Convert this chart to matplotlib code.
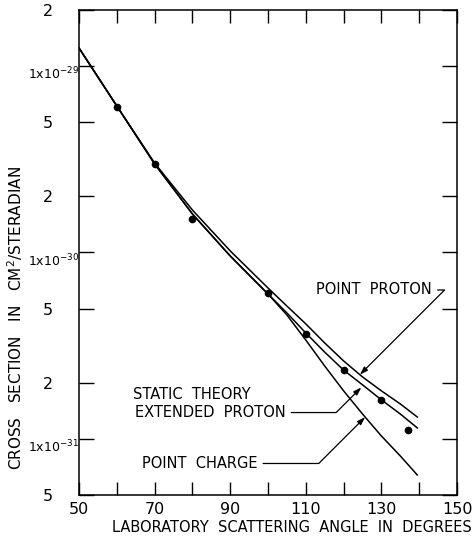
import numpy as np
import matplotlib.pyplot as plt

plt.rcParams['font.family'] = ['DejaVu Sans']
plt.rcParams['mathtext.default'] = 'regular'

# curves (angle in degrees, cross section in cm^2/sr)
angles = [50, 60, 70, 80, 90, 100, 105, 110, 115, 120, 125, 130, 135, 139.5]
point_proton = [1.25e-29, 6.11e-30, 3.02e-30, 1.69e-30, 1.02e-30, 6.45e-31, 5.16e-31,
                4.14e-31, 3.27e-31, 2.62e-31, 2.15e-31, 1.81e-31, 1.54e-31, 1.31e-31]
extended_proton = [1.25e-29, 6.11e-30, 2.985e-30, 1.61e-30, 9.58e-31, 5.99e-31, 4.74e-31,
                   3.70e-31, 2.92e-31, 2.34e-31, 1.95e-31, 1.62e-31, 1.36e-31, 1.145e-31]
point_charge = [1.25e-29, 6.11e-30, 2.985e-30, 1.61e-30, 9.58e-31, 5.99e-31, 4.62e-31,
                3.39e-31, 2.46e-31, 1.81e-31, 1.36e-31, 1.036e-31, 8.10e-32, 6.40e-32]

# measured points
data_angles = [60, 70, 80, 100, 110, 120, 130, 137]
data_cross = [6.06e-30, 2.97e-30, 1.51e-30, 6.09e-31, 3.65e-31, 2.34e-31, 1.62e-31, 1.12e-31]

x_ticks = [50, 60, 70, 80, 90, 100, 110, 120, 130, 140, 150]
x_labels = ['50', '', '70', '', '90', '', '110', '', '130', '', '150']
y_major = [1e-29, 1e-30, 1e-31]
y_major_labels = ['1x10$^{-29}$', '1x10$^{-30}$', '1x10$^{-31}$']
y_minor = [2e-29, 5e-30, 2e-30, 5e-31, 2e-31, 5e-32]
y_minor_labels = ['2', '5', '2', '5', '2', '5']


def on_curve(x, curve):
    return x, 10 ** np.interp(x, angles, np.log10(curve))


fig = plt.figure(figsize=(4.76, 5.58), dpi=100)
ax = fig.add_axes([0.166, 0.1129, 0.7941, 0.8692])

ax.plot(angles, point_proton, color='black', lw=1.1)
ax.plot(angles, extended_proton, color='black', lw=1.1)
ax.plot(angles, point_charge, color='black', lw=1.1)
ax.plot(data_angles, data_cross, 'o', color='black', markersize=4.5)

ax.set_yscale('log')
ax.set_xlim(50, 150)
ax.set_ylim(5e-32, 2e-29)

ax.set_xticks(x_ticks, labels=x_labels)
ax.set_yticks(y_major, labels=y_major_labels)
ax.set_yticks(y_minor, labels=y_minor_labels, minor=True)

ax.tick_params(axis='x', which='both', direction='in', length=9.5, width=1,
               top=True, pad=5, labelsize=11.5)
ax.tick_params(axis='y', which='both', direction='in', length=11, width=1, right=True)
ax.tick_params(axis='y', which='major', pad=0, labelsize=9)
ax.tick_params(axis='y', which='minor', pad=19, labelsize=11.5)
for lab in ax.get_yticklabels():
    lab.set_va('top')
for s in ax.spines.values():
    s.set_linewidth(1.1)

ax.set_xlabel('LABORATORY  SCATTERING  ANGLE  IN  DEGREES', fontsize=10.5)
ax.xaxis.set_label_coords(0.563, -0.052)
ax.set_ylabel('CROSS   SECTION   IN   CM$^2$/STERADIAN', fontsize=11)
ax.yaxis.set_label_coords(-0.143, 0.364)

arrow = dict(arrowstyle='-|>,head_length=0.45,head_width=0.15', color='black', lw=0.9,
             relpos=(1, 0.5), shrinkA=2, shrinkB=0,
             connectionstyle='angle,angleA=0,angleB=45,rad=0')

ax.annotate('POINT  PROTON', xy=on_curve(124.3, point_proton), xytext=(0.934, 0.4227),
            textcoords='axes fraction', ha='right', va='center', fontsize=10.5,
            arrowprops=arrow)
ax.text(0.143, 0.208, 'STATIC  THEORY', transform=ax.transAxes, ha='left', va='center',
        fontsize=10.5)
ax.annotate('EXTENDED  PROTON', xy=on_curve(125.2, extended_proton), xytext=(0.148, 0.170),
            textcoords='axes fraction', ha='left', va='center', fontsize=10.5,
            arrowprops=dict(arrow, shrinkB=2))
ax.annotate('POINT  CHARGE', xy=on_curve(125.7, point_charge), xytext=(0.1667, 0.065),
            textcoords='axes fraction', ha='left', va='center', fontsize=10.5,
            arrowprops=arrow)

fig.savefig('out.png', dpi=100)
